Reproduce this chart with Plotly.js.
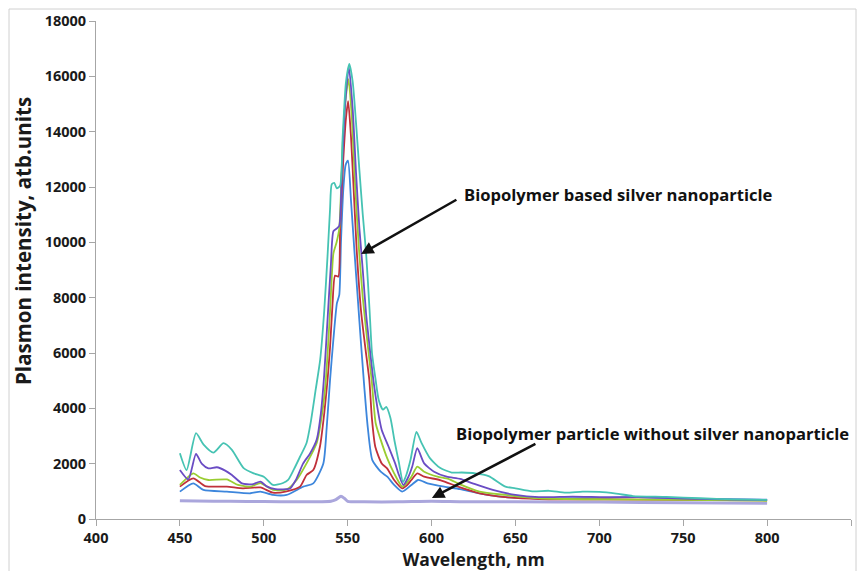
<!DOCTYPE html>
<html>
<head>
<meta charset="utf-8">
<script src="https://cdn.plot.ly/plotly-3.0.1.min.js"></script>
<style>
  html, body { margin: 0; padding: 0; background: #ffffff; }
  #chart { width: 863px; height: 571px; }
</style>
</head>
<body>
<div id="chart"></div>
<script>
// Plasmon spectra of biopolymer samples, wavelength (nm) vs intensity (arb. units)

const tealNm  = [450, 454, 459.6, 464, 470, 476, 481, 488, 494, 500, 505.5, 511.5, 514.5, 518, 521.6, 525.5, 528, 531, 533.6, 536, 538, 539.5, 540.5, 542, 543.5, 545.5, 547, 549, 551, 553, 555, 557, 559, 561, 563, 564.5, 566.5, 568.5, 571, 573, 575.5, 578, 580.5, 583, 585, 587.5, 591, 594, 599, 605, 612, 618, 626, 634, 644, 650, 660, 670, 680, 690, 700, 710, 720, 740, 760, 780, 800];
const tealVal = [2380, 1770, 3100, 2700, 2400, 2740, 2500, 1840, 1650, 1530, 1230, 1300, 1410, 1800, 2250, 2750, 3500, 4700, 5750, 7500, 9500, 11200, 12100, 12150, 11950, 12050, 13800, 15800, 16450, 15800, 14300, 12600, 11000, 9600, 7600, 6000, 5100, 4300, 3950, 4050, 3650, 2800, 2050, 1330, 1600, 2150, 3150, 2750, 2200, 1850, 1680, 1680, 1650, 1550, 1170, 1110, 1000, 1020, 950, 990, 980, 920, 830, 800, 750, 710, 690];

const purpleNm  = [450, 455, 459.6, 463, 467, 472, 477, 481, 487, 493, 498, 502, 507, 511, 515.6, 519, 523.5, 527.6, 531.5, 534, 536, 538, 540, 541.5, 543.5, 545, 546.5, 548.5, 550.7, 553, 555, 557, 559, 561, 563.3, 565.3, 568.3, 570.3, 574.4, 578.3, 580.5, 583.2, 586, 588.5, 591.5, 595.6, 601.5, 609, 617, 624.5, 636.5, 650, 664, 684, 703, 723, 750, 780, 800];
const purpleVal = [1770, 1430, 2350, 2000, 1830, 1870, 1750, 1590, 1290, 1250, 1350, 1170, 1080, 1070, 1100, 1400, 2010, 2370, 2860, 3800, 5200, 7200, 9200, 10400, 10500, 10600, 12500, 15000, 16350, 14800, 12500, 10500, 9000, 7400, 6100, 5030, 3820, 3220, 2610, 2010, 1600, 1230, 1500, 1900, 2560, 2010, 1710, 1530, 1450, 1290, 1050, 870, 790, 810, 790, 790, 740, 700, 690];

const greenNm  = [450, 458, 462, 467, 478, 484.6, 492, 498, 505.5, 513.6, 519.6, 525.5, 531.5, 535, 537, 539.5, 541.5, 543.4, 545, 547, 549, 550.5, 552.5, 554.5, 556.8, 559, 562.3, 564.3, 566.7, 569.7, 573.6, 577.7, 582.5, 585, 588, 591.5, 595.6, 603.5, 610, 617, 628.6, 644, 664, 703, 750, 800];
const greenVal = [1230, 1650, 1500, 1410, 1430, 1230, 1170, 1300, 1050, 1070, 1410, 2010, 2740, 3900, 5030, 7500, 9600, 10000, 10500, 13500, 15300, 15900, 14500, 12000, 9700, 8000, 6100, 5030, 3460, 2860, 2190, 1650, 1170, 1300, 1530, 1890, 1710, 1530, 1450, 1250, 990, 870, 750, 710, 690, 660];

const redNm  = [450, 458, 465, 478, 487.6, 498, 505.5, 513.6, 521.6, 525.5, 529.5, 533.5, 536, 538, 539.5, 541, 542.5, 544.4, 545.5, 547.4, 549, 550.3, 552, 553.5, 555.4, 558, 560.7, 562.9, 564.5, 566.5, 570.3, 573.5, 577.7, 582.5, 585, 588, 591.5, 595.6, 605.5, 616.6, 628.6, 644, 664, 703, 750, 800];
const redVal = [1170, 1470, 1190, 1170, 1110, 1140, 950, 1000, 1170, 1590, 1770, 2620, 3800, 5030, 6200, 7800, 8800, 8760, 10500, 13000, 14500, 15100, 13800, 12000, 9700, 7500, 6100, 5030, 3600, 2600, 2010, 1830, 1410, 1110, 1200, 1410, 1650, 1530, 1400, 1150, 930, 790, 720, 710, 690, 670];

const blueNm  = [450, 458, 464, 478, 492, 498, 505.5, 513.6, 523.5, 529.5, 535.5, 537.5, 539.5, 541.5, 543.6, 545, 546, 547.5, 548.8, 550.2, 552, 554, 556, 558, 560, 562, 564.7, 569.7, 573.6, 577.7, 582.5, 588, 592, 597.6, 607.5, 617, 628.6, 644, 664, 700, 723, 760, 800];
const blueVal = [990, 1290, 1050, 990, 930, 990, 870, 870, 1170, 1290, 2010, 3300, 5030, 6500, 7800, 8100, 10000, 12000, 12800, 12950, 11500, 9700, 8000, 6300, 4700, 3300, 2130, 1710, 1530, 1230, 990, 1230, 1410, 1290, 1170, 1080, 930, 790, 750, 760, 790, 730, 700];

const baseNm  = [450, 460, 480, 500, 520, 540, 543, 546, 548, 550, 560, 580, 600, 620, 650, 700, 750, 800];
const baseVal = [660, 650, 640, 630, 620, 640, 700, 820, 750, 640, 620, 620, 640, 620, 625, 610, 590, 570];

const xTicks = [400, 450, 500, 550, 600, 650, 700, 750, 800, 850];
const yTicks = [0, 2000, 4000, 6000, 8000, 10000, 12000, 14000, 16000, 18000];

const FONT = '"Open Sans", Lato, sans-serif';
const AXIS_GREY = '#a6a6a6';

function spectrum(x, y, color, width) {
  return {
    x: x, y: y, type: 'scatter', mode: 'lines',
    line: { color: color, width: width, shape: 'spline', smoothing: 0.6 },
    hoverinfo: 'x+y', showlegend: false
  };
}

const traces = [
  spectrum(baseNm, baseVal, '#aaa6dc', 3),
  spectrum(blueNm, blueVal, '#3d86dc', 1.8),
  spectrum(redNm, redVal, '#c0303a', 1.8),
  spectrum(greenNm, greenVal, '#9acd32', 1.8),
  spectrum(purpleNm, purpleVal, '#6a4cc4', 1.8),
  spectrum(tealNm, tealVal, '#46c3b3', 1.8)
];

// plot area in pixels: x 96..851, y 21..519
const L = 96, R = 12, T = 21, B = 52, W = 863, H = 571;
const pw = W - L - R, ph = H - T - B;
function px(xp) { return (xp - L) / pw; }
function py(yp) { return (H - B - yp) / ph; }

const layout = {
  width: W, height: H,
  margin: { l: L, r: R, t: T, b: B, pad: 0 },
  paper_bgcolor: '#ffffff', plot_bgcolor: '#ffffff',
  font: { family: FONT, color: '#1a1a1a' },
  xaxis: {
    range: [400, 850], tickvals: xTicks, ticktext: xTicks.map(String),
    showgrid: false, zeroline: false,
    showline: true, linecolor: AXIS_GREY, linewidth: 1,
    ticks: 'outside', ticklen: 6, tickcolor: AXIS_GREY,
    tickfont: { family: FONT, size: 14.5, color: '#1a1a1a', weight: 'bold' },
    title: { text: 'Wavelength, nm', standoff: 5,
             font: { family: FONT, size: 17.5, color: '#1a1a1a', weight: 'bold' } }
  },
  yaxis: {
    range: [0, 18000], tickvals: yTicks, ticktext: yTicks.map(String),
    showgrid: false, zeroline: false,
    showline: true, linecolor: AXIS_GREY, linewidth: 1,
    ticks: 'outside', ticklen: 6, tickcolor: AXIS_GREY,
    tickfont: { family: FONT, size: 14.5, color: '#1a1a1a', weight: 'bold' }
  },
  shapes: [{
    type: 'rect', xref: 'paper', yref: 'paper',
    x0: px(9), x1: px(856), y0: py(578), y1: py(9),
    line: { color: '#d0d0d0', width: 1 }, fillcolor: 'rgba(0,0,0,0)', layer: 'below'
  }],
  annotations: [
    {
      // vertical axis title, placed on its own so it can sit above the plot centre
      x: px(23), y: py(241), xref: 'paper', yref: 'paper', xanchor: 'center', yanchor: 'middle',
      text: 'Plasmon intensity, atb.units', textangle: -90, showarrow: false,
      font: { family: FONT, size: 20.5, color: '#1a1a1a', weight: 'bold' }
    },
    {
      x: 558, y: 9580, xref: 'x', yref: 'y',
      ax: 615.7, ay: 11570, axref: 'x', ayref: 'y',
      text: '', showarrow: true, arrowhead: 2, arrowsize: 1, arrowwidth: 2.5, arrowcolor: '#111111'
    },
    {
      x: px(462), y: py(194), xref: 'paper', yref: 'paper', xanchor: 'left', yanchor: 'middle',
      text: 'Biopolymer based silver nanoparticle', showarrow: false,
      font: { family: FONT, size: 16.6, color: '#111111', weight: 'bold' }
    },
    {
      x: 600.2, y: 760, xref: 'x', yref: 'y',
      ax: 662.8, ay: 2740, axref: 'x', ayref: 'y',
      text: '', showarrow: true, arrowhead: 2, arrowsize: 1, arrowwidth: 2.5, arrowcolor: '#111111'
    },
    {
      x: px(454), y: py(433), xref: 'paper', yref: 'paper', xanchor: 'left', yanchor: 'middle',
      text: 'Biopolymer particle without silver nanoparticle', showarrow: false,
      font: { family: FONT, size: 16.6, color: '#111111', weight: 'bold' }
    }
  ]
};

Plotly.newPlot('chart', traces, layout, { displayModeBar: false, staticPlot: true });
</script>
</body>
</html>
